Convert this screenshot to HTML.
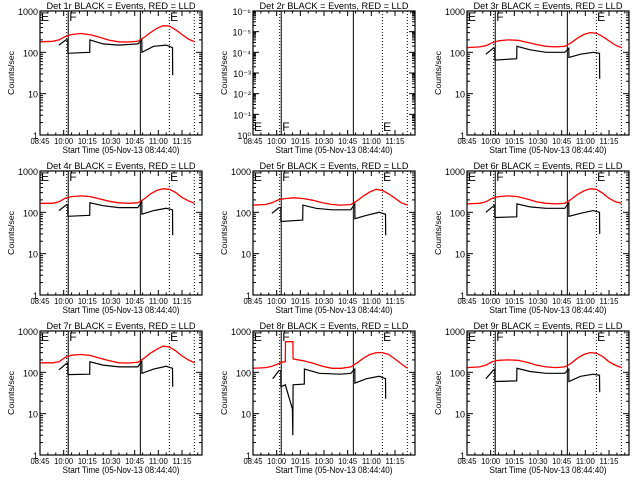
<!DOCTYPE html>
<html><head><meta charset="utf-8"><style>
html,body{margin:0;padding:0;background:#fff;}
svg{display:block;font-family:"Liberation Sans",sans-serif;}
</style></head><body>
<svg id="chart" width="640" height="480" viewBox="0 0 640 480" xmlns="http://www.w3.org/2000/svg">
<rect x="0" y="0" width="640" height="480" fill="#ffffff"/>
</svg>
<script>
// x-axis: minutes since first label
const xTickLabels = ["08:45","10:00","10:15","10:30","10:45","11:00","11:15"];
const xTickMinutes = [0,15,30,45,60,75,90];
const yTickLabels = ["1","10","100","1000"];
const yTickValues = [1,10,100,1000];
const y2TickLabels = ["10\u2070","10\u207B\u00B9","10\u207B\u00B2","10\u207B\u00B3","10\u207B\u2074","10\u207B\u2075","10\u207B\u2076"];
const markerDotted = [16.9, 82, 97.8];
const markerSolid = [17.9, 63.6];
const markerLetters = ["E","F","E"];
const markerLetterTimes = [0.6, 18.5, 82.5];

const redT = [0,8,12,16,20,26,32,38,44,50,56,62,66,70,74,78,82,86,90,94,98];
const red1 = [180,185,200,240,270,285,265,230,195,180,178,185,230,300,380,440,430,350,270,210,180];
const red3 = [130,135,145,170,190,200,195,175,155,140,135,140,170,220,270,300,290,240,190,150,130];
const red4 = [165,165,180,220,240,250,240,210,185,170,165,170,210,280,340,370,360,300,230,190,165];
const red5 = [150,155,170,200,215,225,215,195,170,155,150,155,190,250,310,360,340,280,220,170,150];
const red6 = [160,165,180,220,240,250,240,210,180,165,160,165,205,270,330,370,360,290,220,180,165];
const red7 = [170,170,180,230,260,270,255,220,190,170,168,175,220,290,360,430,410,330,250,200,170];
const red9 = [130,135,150,180,195,200,195,175,150,135,130,135,165,220,270,300,290,240,180,150,130];
const red8T = [0,8,12,16,17.7,20.5,20.6,25.3,25.4,32,38,44,50,56,62,66,70,74,78,82,86,90,94,98];
const red8 = [125,130,140,160,175,180,550,550,210,190,165,140,125,125,135,170,220,270,300,300,270,210,160,125];

const blackT = [12,16.5,17.6,17.7,31.5,31.6,40,50,62,64.5,64.6,72,80,84,84.1];
const black1 = [150,200,200,95,100,200,160,150,160,200,100,140,150,130,28];
const black3 = [90,125,125,65,70,140,115,100,100,125,75,90,100,95,23];
const black4 = [110,150,150,80,85,170,145,130,130,180,90,110,125,115,28];
const black5 = [95,130,130,60,65,150,125,115,115,160,70,85,100,90,28];
const black6 = [100,140,150,75,78,160,135,125,125,170,80,95,110,100,30];
const black7 = [115,160,170,88,90,180,150,135,135,185,95,120,140,125,45];
const black9 = [70,110,120,60,62,125,105,95,95,120,60,80,90,85,33];
const black8T = [12.5,16.5,17.6,17.7,20.5,25,25.2,25.4,32.5,32.6,42,55,62,64.5,64.6,72,80,84,84.1];
const black8 = [70,110,110,45,50,13,3,50,52,120,95,90,95,120,55,70,80,70,23];

const panels = [
 {det:"1", rt:redT, r:red1, bt:blackT, b:black1},
 {det:"2", empty:true},
 {det:"3", rt:redT, r:red3, bt:blackT, b:black3},
 {det:"4", rt:redT, r:red4, bt:blackT, b:black4},
 {det:"5", rt:redT, r:red5, bt:blackT, b:black5},
 {det:"6", rt:redT, r:red6, bt:blackT, b:black6},
 {det:"7", rt:redT, r:red7, bt:blackT, b:black7},
 {det:"8", rt:red8T, r:red8, bt:black8T, b:black8},
 {det:"9", rt:redT, r:red9, bt:blackT, b:black9}
];

const NS = "http://www.w3.org/2000/svg";
const svg = document.getElementById("chart");
const L = 40, R = 202, T = 11, B = 135;
const pxPerMin = (182 - 40) / 90;
function xs(t){ return L + t * pxPerMin; }
function ys(v){ return B - (Math.log10(v)) * (B - T) / 3; }
function mk(tag, attrs, parent){
  const e = document.createElementNS(NS, tag);
  for (const k in attrs) e.setAttribute(k, attrs[k]);
  parent.appendChild(e); return e;
}
function txt(parent, x, y, s, size, anchor, extra){
  const e = mk("text", Object.assign({x:x, y:y, "font-size":size, "text-anchor":anchor||"start", fill:"#000"}, extra||{}), parent);
  e.textContent = s; return e;
}

panels.forEach((p, i) => {
  const ox = Math.round((i % 3) * 213.4), oy = Math.floor(i / 3) * 160;
  const g = mk("g", {transform:`translate(${ox},${oy})`}, svg);
  
  

  const title = txt(g, 121, 9, `Det ${p.det}r BLACK = Events, RED = LLD`, 9.5, "middle", {textLength:149, lengthAdjust:"spacingAndGlyphs"});
  
  

  const xt = txt(g, 121, 153, "Start Time (05-Nov-13 08:44:40)", 9.5, "middle", {textLength:117, lengthAdjust:"spacingAndGlyphs"});
  
  

  const yt = txt(g, 0, 0, "Counts/sec", 8.5, "middle", {transform:"translate(14,73) rotate(-90)", textLength:44, lengthAdjust:"spacingAndGlyphs"});
  
  

  // x ticks
  xTickMinutes.forEach((m, k) => {
    const x = xs(m);
    mk("line", {x1:x, x2:x, y1:B, y2:B-5, stroke:"#000", "stroke-width":1}, g);
    mk("line", {x1:x, x2:x, y1:T, y2:T+5, stroke:"#000", "stroke-width":1}, g);
    const lb = txt(g, x, 144, xTickLabels[k], 8.5, "middle", {textLength:19, lengthAdjust:"spacingAndGlyphs"});
    
    
  });
  for (let m = 0; m <= 102; m += 5) {
    if (m % 15 === 0) continue;
    const x = xs(m);
    if (x > R) break;
    mk("line", {x1:x, x2:x, y1:B, y2:B-2.5, stroke:"#000"}, g);
    mk("line", {x1:x, x2:x, y1:T, y2:T+2.5, stroke:"#000"}, g);
  }

  if (p.empty) {
    const step = (B - T) / 6;
    y2TickLabels.forEach((s, k) => {
      const y = B - k * step;
      mk("line", {x1:L, x2:L+6, y1:y, y2:y, stroke:"#000"}, g);
      mk("line", {x1:R, x2:R-6, y1:y, y2:y, stroke:"#000"}, g);
      const lb = txt(g, 38, y + 4, s, 9, "end");
      
      
      if (k < 6) for (let d = 2; d <= 9; d++) {
        const yy = y - Math.log10(d) * step;
        mk("line", {x1:L, x2:L+3, y1:yy, y2:yy, stroke:"#000"}, g);
        mk("line", {x1:R, x2:R-3, y1:yy, y2:yy, stroke:"#000"}, g);
      }
    });
  } else {
    yTickValues.forEach((v, k) => {
      const y = ys(v);
      mk("line", {x1:L, x2:L+6, y1:y, y2:y, stroke:"#000"}, g);
      mk("line", {x1:R, x2:R-6, y1:y, y2:y, stroke:"#000"}, g);
      const lb = txt(g, 38, y + 4, yTickLabels[k], 9, "end");
      
      
      if (k < 3) for (let d = 2; d <= 9; d++) {
        const yy = ys(v * d);
        mk("line", {x1:L, x2:L+3, y1:yy, y2:yy, stroke:"#000"}, g);
        mk("line", {x1:R, x2:R-3, y1:yy, y2:yy, stroke:"#000"}, g);
      }
    });
  }

  // markers
  markerDotted.forEach(t => {
    const l = mk("line", {x1:xs(t), x2:xs(t), y1:T, y2:B, stroke:"#000", "stroke-dasharray":"1 2"}, g);
    
    
  });
  markerSolid.forEach(t => {
    const l = mk("line", {x1:xs(t), x2:xs(t), y1:T, y2:B, stroke:"#000", "stroke-width":1}, g);
    
    
  });
  markerLetters.forEach((s, k) => {
    const ly = p.empty ? 131 : 21;
    const lb = txt(g, xs(markerLetterTimes[k]), ly, s, 12, "start", {"font-weight":"normal"});
    
    
  });

  if (!p.empty) {
    const rp = p.rt.map((t, k) => xs(t).toFixed(1) + "," + ys(p.r[k]).toFixed(1)).join(" ");
    const red = mk("polyline", {points:rp, fill:"none", stroke:"#ff0000", "stroke-width":1.3}, g);
    
    
    const bp = p.bt.map((t, k) => xs(t).toFixed(1) + "," + ys(p.b[k]).toFixed(1)).join(" ");
    const blk = mk("polyline", {points:bp, fill:"none", stroke:"#000", "stroke-width":1.2}, g);
    
    
  }

  const box = mk("rect", {x:L, y:T, width:R-L, height:B-T, fill:"none", stroke:"#000", "stroke-width":1.2}, g);
  
  
});
</script>
</body></html>
